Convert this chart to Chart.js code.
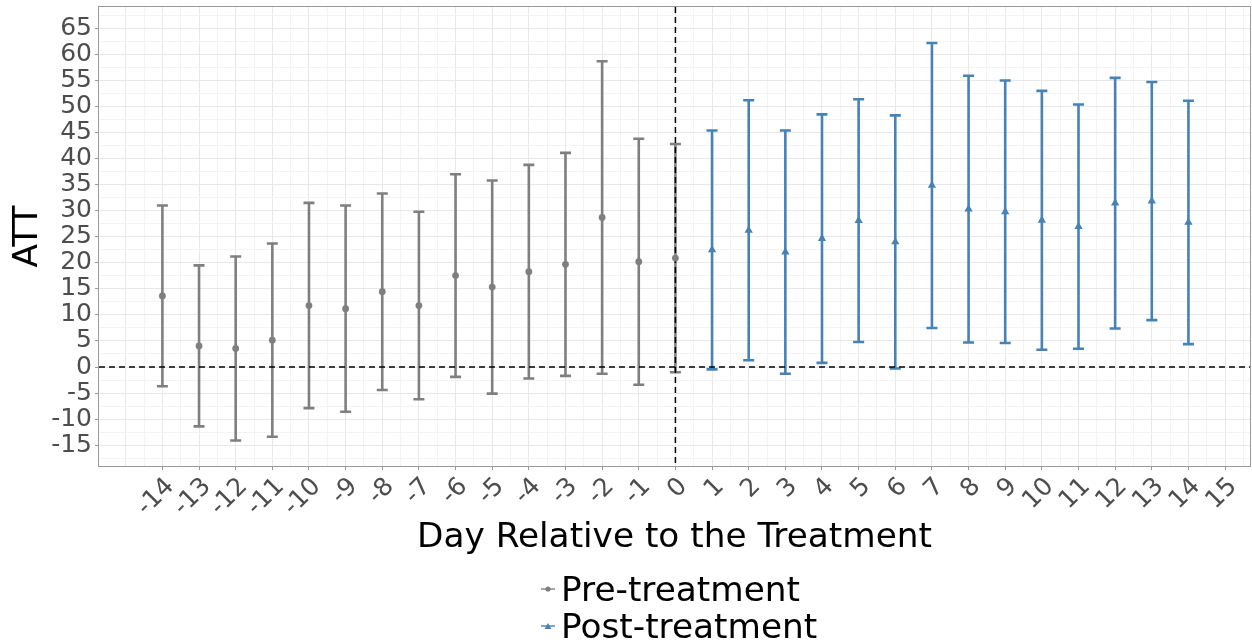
<!DOCTYPE html>
<html>
<head>
<meta charset="utf-8">
<script src="https://cdn.jsdelivr.net/npm/chart.js@4.4.1/dist/chart.umd.min.js"></script>
<style>
  body { margin: 0; background: #fff; font-family: "DejaVu Sans", sans-serif; }
  #wrap { position: relative; width: 1252px; height: 644px; }
  #legend { position: absolute; left: 541px; top: 571px; font-size: 34.3px; color: #000; }
  #legend .item { display: flex; align-items: center; height: 36.7px; line-height: 36.7px; white-space: nowrap; }
  #legend svg { margin-right: 6px; }
</style>
</head>
<body>
<div id="wrap">
  <canvas id="att" width="1252" height="644"></canvas>
  <div id="legend"></div>
</div>
<script>
// event-study estimates, days before and after treatment
var preDays  = [-14, -13, -12, -11, -10, -9, -8, -7, -6, -5, -4, -3, -2, -1, 0];
var preEst   = [13.65, 4.05, 3.55, 5.15, 11.8, 11.2, 14.45, 11.8, 17.55, 15.35, 18.3, 19.7, 28.7, 20.2, 20.9];
var preLow   = [-3.7, -11.4, -14.1, -13.4, -7.9, -8.6, -4.4, -6.2, -1.9, -5.1, -2.2, -1.7, -1.3, -3.4, -1.0];
var preHigh  = [31.0, 19.5, 21.2, 23.7, 31.5, 31.0, 33.3, 29.8, 37.0, 35.8, 38.8, 41.1, 58.7, 43.8, 42.8];

var postDays = [1, 2, 3, 4, 5, 6, 7, 8, 9, 10, 11, 12, 13, 14];
var postEst  = [22.5, 26.25, 22.05, 24.65, 28.1, 24.0, 34.85, 30.3, 29.8, 28.15, 26.95, 31.45, 31.85, 27.75];
var postLow  = [-0.45, 1.3, -1.3, 0.8, 4.8, -0.3, 7.5, 4.7, 4.6, 3.3, 3.5, 7.4, 9.0, 4.4];
var postHigh = [45.4, 51.2, 45.4, 48.5, 51.4, 48.3, 62.2, 55.9, 55.0, 53.0, 50.4, 55.5, 54.7, 51.1];

var dayTicks = [-14, -13, -12, -11, -10, -9, -8, -7, -6, -5, -4, -3, -2, -1, 0,
                1, 2, 3, 4, 5, 6, 7, 8, 9, 10, 11, 12, 13, 14, 15];
var attTicks = [-15, -10, -5, 0, 5, 10, 15, 20, 25, 30, 35, 40, 45, 50, 55, 60, 65];

var GREY = '#7f7f7f';
var BLUE = '#4682b4';
var FONT = 'DejaVu Sans';

function points(days, est, low, high) {
  return days.map(function(d, i) {
    return { x: d, y: est[i], yMin: low[i], yMax: high[i] };
  });
}

// major + minor grid positions (every half step)
function halfSteps(from, to) {
  var out = [];
  for (var v = from; v <= to + 1e-9; v += 0.5) out.push(Math.round(v * 10) / 10);
  return out;
}
function halfTicks(labels) {
  var step = labels[1] - labels[0];
  var out = [];
  for (var v = labels[0] - step / 2; v <= labels[labels.length - 1] + step / 2 + 1e-9; v += step / 2) out.push(Math.round(v * 10) / 10);
  return out;
}
var gridX = halfSteps(-15, 15.5);
var gridY = halfTicks(attTicks);

var errorBars = {
  id: 'errorBars',
  beforeDatasetsDraw: function(chart) {
    var ctx = chart.ctx, x = chart.scales.x, y = chart.scales.y, area = chart.chartArea;
    ctx.save();
    ctx.beginPath();
    ctx.rect(area.left, area.top, area.right - area.left, area.bottom - area.top);
    ctx.clip();
    chart.data.datasets.forEach(function(ds) {
      ctx.strokeStyle = ds.borderColor;
      ctx.lineWidth = 2.6;
      ds.data.forEach(function(p) {
        var px = x.getPixelForValue(p.x);
        var top = y.getPixelForValue(p.yMax);
        var bot = y.getPixelForValue(p.yMin);
        ctx.beginPath();
        ctx.moveTo(px, top); ctx.lineTo(px, bot);
        ctx.moveTo(px - 5.5, top); ctx.lineTo(px + 5.5, top);
        ctx.moveTo(px - 5.5, bot); ctx.lineTo(px + 5.5, bot);
        ctx.stroke();
      });
    });
    // reference lines at zero
    ctx.strokeStyle = '#000';
    ctx.lineWidth = 1.5;
    ctx.setLineDash([6, 4]);
    var y0 = y.getPixelForValue(0), x0 = x.getPixelForValue(0);
    ctx.beginPath();
    ctx.moveTo(area.left, y0); ctx.lineTo(area.right, y0);
    ctx.moveTo(x0, area.top); ctx.lineTo(x0, area.bottom);
    ctx.stroke();
    ctx.restore();
  },
  afterDatasetsDraw: function(chart) {
    var ctx = chart.ctx, a = chart.chartArea;
    ctx.save();
    ctx.strokeStyle = '#9a9a9a';
    ctx.lineWidth = 1;
    ctx.strokeRect(a.left - 0.5, a.top - 0.5, a.right - a.left + 1, a.bottom - a.top + 1);
    ctx.restore();
  }
};

function gridColor(labels) {
  return function(c) {
    var v = c.tick.value;
    var major = labels === dayTicks ? Number.isInteger(v) : labels.indexOf(v) >= 0;
    return major ? '#e8e8e8' : '#f3f3f3';
  };
}
function tickColor(labels) {
  return function(c) {
    return labels.indexOf(c.tick.value) >= 0 ? '#9a9a9a' : 'rgba(0,0,0,0)';
  };
}

var chart = new Chart(document.getElementById('att'), {
  type: 'scatter',
  data: {
    datasets: [{
      label: 'Pre-treatment',
      data: points(preDays, preEst, preLow, preHigh),
      borderColor: GREY,
      backgroundColor: GREY,
      pointStyle: 'circle',
      pointRadius: 3.4,
      pointBorderWidth: 0
    }, {
      label: 'Post-treatment',
      data: points(postDays, postEst, postLow, postHigh),
      borderColor: BLUE,
      backgroundColor: BLUE,
      pointStyle: 'triangle',
      pointRadius: 4.8,
      pointBorderWidth: 0
    }]
  },
  options: {
    responsive: false,
    animation: false,
    events: [],
    layout: { autoPadding: false, padding: { left: 0, right: 2, top: 7, bottom: 78 } },
    plugins: { legend: { display: false }, tooltip: { enabled: false } },
    scales: {
      x: {
        type: 'linear',
        min: -15.73,
        max: 15.68,
        afterBuildTicks: function(s) { s.ticks = gridX.map(function(v) { return { value: v }; }); },
        afterFit: function(s) { s.height = 100; s.paddingLeft = 0; s.paddingRight = 0; },
        border: { display: false },
        grid: { color: gridColor(dayTicks), lineWidth: 1, tickLength: 4, tickColor: tickColor(dayTicks), tickWidth: 1 },
        ticks: {
          autoSkip: false, minRotation: 45, maxRotation: 45, padding: 2, labelOffset: 8,
          color: '#4d4d4d', font: { family: FONT, size: 25 },
          callback: function(v) { return dayTicks.indexOf(v) >= 0 ? String(v) : ''; }
        },
        title: {
          display: true, text: 'Day Relative to the Treatment', color: '#000',
          font: { family: FONT, size: 34.3 }, padding: { top: 0, bottom: 7 }
        }
      },
      y: {
        type: 'linear',
        min: -19,
        max: 69.1,
        afterBuildTicks: function(s) { s.ticks = gridY.map(function(v) { return { value: v }; }); },
        afterFit: function(s) { s.width = 99; s.paddingTop = 0; s.paddingBottom = 0; },
        border: { display: false },
        grid: { color: gridColor(attTicks), lineWidth: 1, tickLength: 4, tickColor: tickColor(attTicks), tickWidth: 1 },
        ticks: {
          autoSkip: false, padding: 3,
          color: '#4d4d4d', font: { family: FONT, size: 25 },
          callback: function(v) { return attTicks.indexOf(v) >= 0 ? String(v) : ''; }
        },
        title: {
          display: true, text: 'ATT', color: '#000',
          font: { family: FONT, size: 34.3 }, padding: { top: 8, bottom: 0 }
        }
      }
    }
  },
  plugins: [errorBars]
});

// legend keys: short line with the series marker
var legend = document.getElementById('legend');
chart.data.datasets.forEach(function(ds) {
  var mark = ds.pointStyle === 'triangle'
    ? '<polygon points="7,2 10.5,8 3.5,8" fill="' + ds.borderColor + '"/>'
    : '<circle cx="7" cy="5" r="2.6" fill="' + ds.borderColor + '"/>';
  var row = document.createElement('div');
  row.className = 'item';
  row.innerHTML = '<svg width="14" height="10" viewBox="0 0 14 10">' +
    '<line x1="0" y1="5" x2="14" y2="5" stroke="' + ds.borderColor + '" stroke-width="1.4"/>' + mark +
    '</svg><span>' + ds.label + '</span>';
  legend.appendChild(row);
});
</script>
</body>
</html>
